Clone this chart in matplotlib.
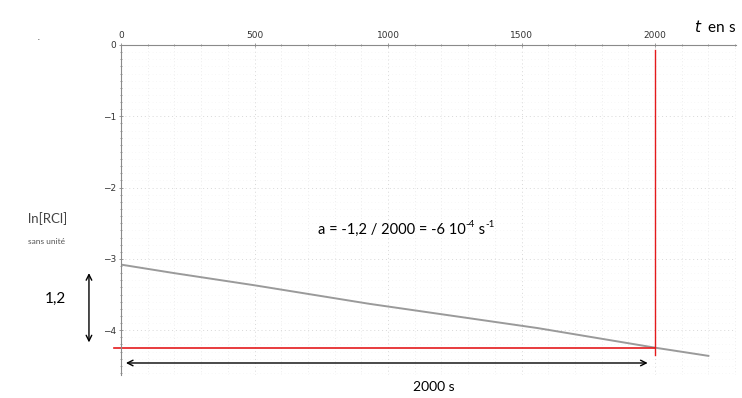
import matplotlib
matplotlib.use("Agg")
import matplotlib.pyplot as plt
from matplotlib.ticker import MultipleLocator

# values
t_curve = [0, 200, 500, 930, 1560, 2000, 2200]
ln_rcl = [-3.08, -3.2, -3.37, -3.63, -3.97, -4.245, -4.36]

x_ticks = [0, 500, 1000, 1500, 2000]
y_ticks = [0, -1, -2, -3, -4]

t_end = 2000
ln_end = -4.245
ln_top = -3.16

W, H = 742, 398
fig = plt.figure(figsize=(W / 100, H / 100), dpi=100)
fig.patch.set_facecolor("white")

left, right, top, bottom = 121, 736, 45, 375
ax = fig.add_axes([left / W, 1 - bottom / H, (right - left) / W, (bottom - top) / H])
ax.set_xlim(0, (right - left) / 267 * 1000)
ax.set_ylim(-(bottom - top) / 71.3, 0)

# axes look like the scanned plotter output
for side in ["right", "bottom"]:
    ax.spines[side].set_visible(False)
ax.spines["top"].set_color("#8a8a8a")
ax.spines["left"].set_color("#8a8a8a")
ax.spines["top"].set_linewidth(0.8)
ax.spines["left"].set_linewidth(0.8)
ax.xaxis.tick_top()
ax.set_xticks(x_ticks)
ax.set_yticks(y_ticks)
ax.set_xticklabels([str(v) for v in x_ticks])
ax.set_yticklabels(["0"] + ["\u2212" + str(-v) for v in y_ticks[1:]])
ax.xaxis.set_minor_locator(MultipleLocator(100))
ax.yaxis.set_minor_locator(MultipleLocator(0.1))
ax.tick_params(which="both", colors="#8a8a8a", labelcolor="#333333", labelsize=6.5,
               direction="inout", length=3, width=0.6, pad=2)
ax.tick_params(which="minor", length=2)
ax.grid(which="major", color="#d8d8d8", linestyle=(0, (1, 3)), linewidth=0.7)
ax.grid(which="minor", axis="x", color="#e6e6e6", linestyle=(0, (1, 3)), linewidth=0.6)
ax.grid(which="minor", axis="y", color="#f0f0f0", linestyle=(0, (1, 4)), linewidth=0.5)
ax.set_axisbelow(True)

ax.plot(t_curve, ln_rcl, color="#9a9a9a", linewidth=1.4)

red = "#e41a1c"
ax.plot([-26, t_end], [ln_end, ln_end], color=red, linewidth=1.2, clip_on=False)
ax.plot([t_end, t_end], [-0.07, -4.35], color=red, linewidth=1.0)

# double arrows
ax.annotate("", xy=(8, -4.46), xytext=(1983, -4.46),
            arrowprops=dict(arrowstyle="<->", color="black", lw=1.0),
            annotation_clip=False)
ax.annotate("", xy=(-120, ln_top), xytext=(-120, -4.21),
            arrowprops=dict(arrowstyle="<->", color="black", lw=1.0),
            annotation_clip=False)

font = "Lato"


def px(x, y):
    return x / W, 1 - y / H


fig.text(*px(413, 387), "2000 s", fontsize=10, family=font, ha="left", va="center")
fig.text(*px(45, 299), "1,2", fontsize=11, family=font, ha="left", va="center")
fig.text(*px(28, 219), "ln[RCl]", fontsize=9.5, family=font, color="#444444",
         ha="left", va="center")
fig.text(*px(28, 242), "sans unité", fontsize=6, family=font, color="#555555",
         ha="left", va="center")
fig.text(*px(694, 27), r"$t$  en s", fontsize=11, family=font, ha="left", va="center")
fig.text(*px(39, 42), ".", fontsize=8, color="#555555", ha="center", va="bottom")

# slope formula, with small superscripts written piece by piece
pieces = [("a = -1,2 / 2000 = -6 10", 0), ("-4", 1), (" s", 0), ("-1", 1)]
renderer = fig.canvas.get_renderer()
x_pos = 318
for txt, sup in pieces:
    y_pos = 225 if sup else 230
    size = 7 if sup else 10.5
    t = fig.text(*px(x_pos, y_pos), txt, fontsize=size, family=font,
                 ha="left", va="center")
    x_pos += t.get_window_extent(renderer).width

fig.savefig("out.png", dpi=100, facecolor="white")
